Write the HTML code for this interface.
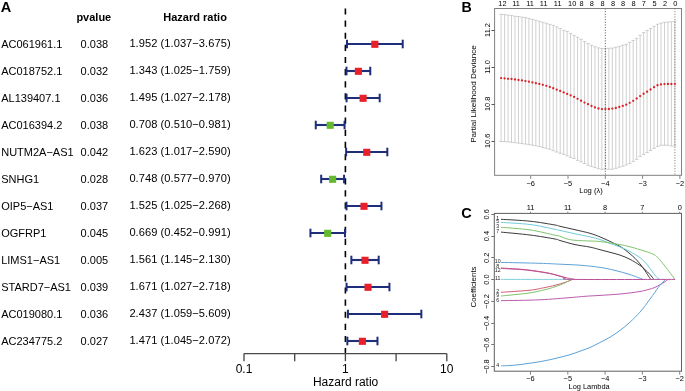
<!DOCTYPE html>
<html><head><meta charset="utf-8"><style>
html,body{margin:0;padding:0;background:#fff;}
body{width:685px;height:391px;overflow:hidden;}
svg{display:block;font-family:"Liberation Sans", sans-serif;font-variant-ligatures:none;font-kerning:normal;will-change:transform;}
</style></head><body>
<svg width="685" height="391" viewBox="0 0 685 391" font-family='"Liberation Sans", sans-serif'>
<rect width="685" height="391" fill="#fff"/>
<text x="0.7" y="12.0" font-size="14.6" font-weight="bold">A</text>
<text x="76.4" y="20.6" font-size="11" font-weight="bold">pvalue</text>
<text x="163.3" y="20.7" font-size="11" font-weight="bold">Hazard ratio</text>
<text x="1.2" y="47.90" font-size="11">AC061961.1</text>
<text x="80.6" y="47.90" font-size="11">0.038</text>
<text x="129.4" y="47.15" font-size="11.1" textLength="101.2" lengthAdjust="spacing">1.952 (1.037−3.675)</text>
<text x="1.2" y="74.90" font-size="11">AC018752.1</text>
<text x="80.6" y="74.90" font-size="11">0.032</text>
<text x="129.4" y="74.15" font-size="11.1" textLength="101.2" lengthAdjust="spacing">1.343 (1.025−1.759)</text>
<text x="1.2" y="101.90" font-size="11">AL139407.1</text>
<text x="80.6" y="101.90" font-size="11">0.036</text>
<text x="129.4" y="101.15" font-size="11.1" textLength="101.2" lengthAdjust="spacing">1.495 (1.027−2.178)</text>
<text x="1.2" y="128.90" font-size="11">AC016394.2</text>
<text x="80.6" y="128.90" font-size="11">0.038</text>
<text x="129.4" y="128.15" font-size="11.1" textLength="101.2" lengthAdjust="spacing">0.708 (0.510−0.981)</text>
<text x="1.2" y="155.90" font-size="11">NUTM2A−AS1</text>
<text x="80.6" y="155.90" font-size="11">0.042</text>
<text x="129.4" y="155.15" font-size="11.1" textLength="101.2" lengthAdjust="spacing">1.623 (1.017−2.590)</text>
<text x="1.2" y="182.90" font-size="11">SNHG1</text>
<text x="80.6" y="182.90" font-size="11">0.028</text>
<text x="129.4" y="182.15" font-size="11.1" textLength="101.2" lengthAdjust="spacing">0.748 (0.577−0.970)</text>
<text x="1.2" y="209.90" font-size="11">OIP5−AS1</text>
<text x="80.6" y="209.90" font-size="11">0.037</text>
<text x="129.4" y="209.15" font-size="11.1" textLength="101.2" lengthAdjust="spacing">1.525 (1.025−2.268)</text>
<text x="1.2" y="236.90" font-size="11">OGFRP1</text>
<text x="80.6" y="236.90" font-size="11">0.045</text>
<text x="129.4" y="236.15" font-size="11.1" textLength="101.2" lengthAdjust="spacing">0.669 (0.452−0.991)</text>
<text x="1.2" y="263.90" font-size="11">LIMS1−AS1</text>
<text x="80.6" y="263.90" font-size="11">0.005</text>
<text x="129.4" y="263.15" font-size="11.1" textLength="101.2" lengthAdjust="spacing">1.561 (1.145−2.130)</text>
<text x="1.2" y="290.90" font-size="11">STARD7−AS1</text>
<text x="80.6" y="290.90" font-size="11">0.039</text>
<text x="129.4" y="290.15" font-size="11.1" textLength="101.2" lengthAdjust="spacing">1.671 (1.027−2.718)</text>
<text x="1.2" y="317.90" font-size="11">AC019080.1</text>
<text x="80.6" y="317.90" font-size="11">0.036</text>
<text x="129.4" y="317.15" font-size="11.1" textLength="101.2" lengthAdjust="spacing">2.437 (1.059−5.609)</text>
<text x="1.2" y="344.90" font-size="11">AC234775.2</text>
<text x="80.6" y="344.90" font-size="11">0.027</text>
<text x="129.4" y="344.15" font-size="11.1" textLength="101.2" lengthAdjust="spacing">1.471 (1.045−2.072)</text>
<line x1="345.4" y1="8.4" x2="345.4" y2="353.6" stroke="#000" stroke-width="1.6" stroke-dasharray="6.2 5.93"/>
<line x1="347.00" y1="44.0" x2="402.72" y2="44.0" stroke="#1e2e7a" stroke-width="2.1"/>
<line x1="347.00" y1="39.70" x2="347.00" y2="48.30" stroke="#1e2e7a" stroke-width="2"/>
<line x1="402.72" y1="39.70" x2="402.72" y2="48.30" stroke="#1e2e7a" stroke-width="2"/>
<rect x="371.30" y="40.75" width="7.1" height="7.1" fill="#e8202a"/>
<line x1="346.49" y1="71.0" x2="370.27" y2="71.0" stroke="#1e2e7a" stroke-width="2.1"/>
<line x1="346.49" y1="66.70" x2="346.49" y2="75.30" stroke="#1e2e7a" stroke-width="2"/>
<line x1="370.27" y1="66.70" x2="370.27" y2="75.30" stroke="#1e2e7a" stroke-width="2"/>
<rect x="354.84" y="67.75" width="7.1" height="7.1" fill="#e8202a"/>
<line x1="346.57" y1="98.0" x2="379.68" y2="98.0" stroke="#1e2e7a" stroke-width="2.1"/>
<line x1="346.57" y1="93.70" x2="346.57" y2="102.30" stroke="#1e2e7a" stroke-width="2"/>
<line x1="379.68" y1="93.70" x2="379.68" y2="102.30" stroke="#1e2e7a" stroke-width="2"/>
<rect x="359.56" y="94.75" width="7.1" height="7.1" fill="#e8202a"/>
<line x1="315.75" y1="125.0" x2="344.56" y2="125.0" stroke="#1e2e7a" stroke-width="2.1"/>
<line x1="315.75" y1="120.70" x2="315.75" y2="129.30" stroke="#1e2e7a" stroke-width="2"/>
<line x1="344.56" y1="120.70" x2="344.56" y2="129.30" stroke="#1e2e7a" stroke-width="2"/>
<rect x="326.64" y="121.75" width="7.1" height="7.1" fill="#64b92f"/>
<line x1="346.14" y1="152.0" x2="387.31" y2="152.0" stroke="#1e2e7a" stroke-width="2.1"/>
<line x1="346.14" y1="147.70" x2="346.14" y2="156.30" stroke="#1e2e7a" stroke-width="2"/>
<line x1="387.31" y1="147.70" x2="387.31" y2="156.30" stroke="#1e2e7a" stroke-width="2"/>
<rect x="363.18" y="148.75" width="7.1" height="7.1" fill="#e8202a"/>
<line x1="321.18" y1="179.0" x2="344.06" y2="179.0" stroke="#1e2e7a" stroke-width="2.1"/>
<line x1="321.18" y1="174.70" x2="321.18" y2="183.30" stroke="#1e2e7a" stroke-width="2"/>
<line x1="344.06" y1="174.70" x2="344.06" y2="183.30" stroke="#1e2e7a" stroke-width="2"/>
<rect x="329.06" y="175.75" width="7.1" height="7.1" fill="#64b92f"/>
<line x1="346.49" y1="206.0" x2="381.46" y2="206.0" stroke="#1e2e7a" stroke-width="2.1"/>
<line x1="346.49" y1="201.70" x2="346.49" y2="210.30" stroke="#1e2e7a" stroke-width="2"/>
<line x1="381.46" y1="201.70" x2="381.46" y2="210.30" stroke="#1e2e7a" stroke-width="2"/>
<rect x="360.43" y="202.75" width="7.1" height="7.1" fill="#e8202a"/>
<line x1="310.43" y1="233.0" x2="345.00" y2="233.0" stroke="#1e2e7a" stroke-width="2.1"/>
<line x1="310.43" y1="228.70" x2="310.43" y2="237.30" stroke="#1e2e7a" stroke-width="2"/>
<line x1="345.00" y1="228.70" x2="345.00" y2="237.30" stroke="#1e2e7a" stroke-width="2"/>
<rect x="324.15" y="229.75" width="7.1" height="7.1" fill="#64b92f"/>
<line x1="351.36" y1="260.0" x2="378.70" y2="260.0" stroke="#1e2e7a" stroke-width="2.1"/>
<line x1="351.36" y1="255.70" x2="351.36" y2="264.30" stroke="#1e2e7a" stroke-width="2"/>
<line x1="378.70" y1="255.70" x2="378.70" y2="264.30" stroke="#1e2e7a" stroke-width="2"/>
<rect x="361.46" y="256.75" width="7.1" height="7.1" fill="#e8202a"/>
<line x1="346.57" y1="287.0" x2="389.43" y2="287.0" stroke="#1e2e7a" stroke-width="2.1"/>
<line x1="346.57" y1="282.70" x2="346.57" y2="291.30" stroke="#1e2e7a" stroke-width="2"/>
<line x1="389.43" y1="282.70" x2="389.43" y2="291.30" stroke="#1e2e7a" stroke-width="2"/>
<rect x="364.46" y="283.75" width="7.1" height="7.1" fill="#e8202a"/>
<line x1="347.92" y1="314.0" x2="421.34" y2="314.0" stroke="#1e2e7a" stroke-width="2.1"/>
<line x1="347.92" y1="309.70" x2="347.92" y2="318.30" stroke="#1e2e7a" stroke-width="2"/>
<line x1="421.34" y1="309.70" x2="421.34" y2="318.30" stroke="#1e2e7a" stroke-width="2"/>
<rect x="381.08" y="310.75" width="7.1" height="7.1" fill="#e8202a"/>
<line x1="347.34" y1="341.0" x2="377.48" y2="341.0" stroke="#1e2e7a" stroke-width="2.1"/>
<line x1="347.34" y1="336.70" x2="347.34" y2="345.30" stroke="#1e2e7a" stroke-width="2"/>
<line x1="377.48" y1="336.70" x2="377.48" y2="345.30" stroke="#1e2e7a" stroke-width="2"/>
<rect x="358.85" y="337.75" width="7.1" height="7.1" fill="#e8202a"/>
<line x1="244.00" y1="353.6" x2="446.80" y2="353.6" stroke="#4a4a4a" stroke-width="1.2"/>
<line x1="244.00" y1="353.6" x2="244.00" y2="361.2" stroke="#444" stroke-width="1.3"/>
<line x1="294.70" y1="353.6" x2="294.70" y2="361.2" stroke="#444" stroke-width="1.3"/>
<line x1="345.40" y1="353.6" x2="345.40" y2="361.2" stroke="#444" stroke-width="1.3"/>
<line x1="396.10" y1="353.6" x2="396.10" y2="361.2" stroke="#444" stroke-width="1.3"/>
<line x1="446.80" y1="353.6" x2="446.80" y2="361.2" stroke="#444" stroke-width="1.3"/>
<text x="244.00" y="372.7" font-size="12" text-anchor="middle">0.1</text>
<text x="345.40" y="372.7" font-size="12" text-anchor="middle">1</text>
<text x="446.80" y="372.7" font-size="12" text-anchor="middle">10</text>
<text x="345.6" y="386.3" font-size="12" text-anchor="middle">Hazard ratio</text>
<text x="461.5" y="11.8" font-size="14.2" font-weight="bold">B</text>
<path d="M501.10 14.30V141.50M499.36 14.30H502.84M499.36 141.50H502.84M504.58 14.60V141.60M502.84 14.60H506.32M502.84 141.60H506.32M508.05 15.19V141.90M506.31 15.19H509.79M506.31 141.90H509.79M511.53 15.40V142.29M509.79 15.40H513.27M509.79 142.29H513.27M515.00 16.28V142.59M513.26 16.28H516.74M513.26 142.59H516.74M518.48 16.59V143.18M516.74 16.59H520.22M516.74 143.18H520.22M521.96 17.16V143.57M520.22 17.16H523.70M520.22 143.57H523.70M525.43 17.57V144.06M523.69 17.57H527.17M523.69 144.06H527.17M528.91 18.47V144.59M527.17 18.47H530.65M527.17 144.59H530.65M532.38 19.37V145.18M530.64 19.37H534.12M530.64 145.18H534.12M535.86 20.26V145.87M534.12 20.26H537.60M534.12 145.87H537.60M539.34 21.25V146.57M537.60 21.25H541.08M537.60 146.57H541.08M542.81 22.25V147.45M541.07 22.25H544.55M541.07 147.45H544.55M546.29 23.24V148.35M544.55 23.24H548.03M544.55 148.35H548.03M549.76 24.33V149.24M548.02 24.33H551.50M548.02 149.24H551.50M553.24 25.35V150.73M551.50 25.35H554.98M551.50 150.73H554.98M556.72 26.92V152.03M554.98 26.92H558.46M554.98 152.03H558.46M560.19 28.45V153.26M558.45 28.45H561.93M558.45 153.26H561.93M563.67 30.28V154.29M561.93 30.28H565.41M561.93 154.29H565.41M567.14 31.48V155.87M565.40 31.48H568.88M565.40 155.87H568.88M570.62 33.41V157.31M568.88 33.41H572.36M568.88 157.31H572.36M574.10 35.34V158.47M572.36 35.34H575.84M572.36 158.47H575.84M577.57 37.28V160.38M575.83 37.28H579.31M575.83 160.38H579.31M581.05 39.27V161.88M579.31 39.27H582.79M579.31 161.88H582.79M584.52 41.51V163.51M582.78 41.51H586.26M582.78 163.51H586.26M588.00 43.50V165.30M586.26 43.50H589.74M586.26 165.30H589.74M591.48 45.29V166.39M589.74 45.29H593.22M589.74 166.39H593.22M594.95 46.68V167.58M593.21 46.68H596.69M593.21 167.58H596.69M598.43 47.90V168.70M596.69 47.90H600.17M596.69 168.70H600.17M601.90 48.50V169.30M600.16 48.50H603.64M600.16 169.30H603.64M605.38 48.40V169.20M603.64 48.40H607.12M603.64 169.20H607.12M608.86 48.30V169.30M607.12 48.30H610.60M607.12 169.30H610.60M612.33 48.10V169.20M610.59 48.10H614.07M610.59 169.20H614.07M615.81 47.32V168.32M614.07 47.32H617.55M614.07 168.32H617.55M619.28 46.40V167.21M617.54 46.40H621.02M617.54 167.21H621.02M622.76 45.31V166.31M621.02 45.31H624.50M621.02 166.31H624.50M626.24 44.32V164.93M624.50 44.32H627.98M624.50 164.93H627.98M629.71 42.35V163.44M627.97 42.35H631.45M627.97 163.44H631.45M633.19 40.46V161.46M631.45 40.46H634.93M631.45 161.46H634.93M636.66 38.32V159.32M634.92 38.32H638.40M634.92 159.32H638.40M640.14 35.35V156.45M638.40 35.35H641.88M638.40 156.45H641.88M643.62 32.66V154.45M641.88 32.66H645.36M641.88 154.45H645.36M647.09 30.47V152.56M645.35 30.47H648.83M645.35 152.56H648.83M650.57 28.57V150.48M648.83 28.57H652.31M648.83 150.48H652.31M654.04 26.34V148.43M652.30 26.34H655.78M652.30 148.43H655.78M657.52 24.25V146.45M655.78 24.25H659.26M655.78 146.45H659.26M661.00 23.13V145.33M659.26 23.13H662.74M659.26 145.33H662.74M664.47 22.39V145.30M662.73 22.39H666.21M662.73 145.30H666.21M667.95 22.00V145.31M666.21 22.00H669.69M666.21 145.31H669.69M671.42 21.78V146.00M669.68 21.78H673.16M669.68 146.00H673.16M674.90 21.30V146.00M673.16 21.30H676.64M673.16 146.00H676.64" stroke="#bcbcbc" stroke-width="0.7" fill="none"/>
<line x1="605.3" y1="8.5" x2="605.3" y2="175.3" stroke="#2a2a2a" stroke-width="0.85" stroke-dasharray="0.95 1.71"/>
<line x1="674.9" y1="8.5" x2="674.9" y2="175.3" stroke="#555" stroke-width="0.85" stroke-dasharray="0.95 1.71"/>
<circle cx="501.10" cy="78.10" r="1.15" fill="#dc2129"/>
<circle cx="504.58" cy="78.40" r="1.15" fill="#dc2129"/>
<circle cx="508.05" cy="78.79" r="1.15" fill="#dc2129"/>
<circle cx="511.53" cy="79.00" r="1.15" fill="#dc2129"/>
<circle cx="515.00" cy="79.49" r="1.15" fill="#dc2129"/>
<circle cx="518.48" cy="79.98" r="1.15" fill="#dc2129"/>
<circle cx="521.96" cy="80.47" r="1.15" fill="#dc2129"/>
<circle cx="525.43" cy="81.05" r="1.15" fill="#dc2129"/>
<circle cx="528.91" cy="81.68" r="1.15" fill="#dc2129"/>
<circle cx="532.38" cy="82.47" r="1.15" fill="#dc2129"/>
<circle cx="535.86" cy="83.17" r="1.15" fill="#dc2129"/>
<circle cx="539.34" cy="83.96" r="1.15" fill="#dc2129"/>
<circle cx="542.81" cy="84.85" r="1.15" fill="#dc2129"/>
<circle cx="546.29" cy="85.84" r="1.15" fill="#dc2129"/>
<circle cx="549.76" cy="86.93" r="1.15" fill="#dc2129"/>
<circle cx="553.24" cy="88.24" r="1.15" fill="#dc2129"/>
<circle cx="556.72" cy="89.63" r="1.15" fill="#dc2129"/>
<circle cx="560.19" cy="90.96" r="1.15" fill="#dc2129"/>
<circle cx="563.67" cy="92.39" r="1.15" fill="#dc2129"/>
<circle cx="567.14" cy="93.88" r="1.15" fill="#dc2129"/>
<circle cx="570.62" cy="95.41" r="1.15" fill="#dc2129"/>
<circle cx="574.10" cy="96.95" r="1.15" fill="#dc2129"/>
<circle cx="577.57" cy="98.79" r="1.15" fill="#dc2129"/>
<circle cx="581.05" cy="100.77" r="1.15" fill="#dc2129"/>
<circle cx="584.52" cy="102.61" r="1.15" fill="#dc2129"/>
<circle cx="588.00" cy="104.20" r="1.15" fill="#dc2129"/>
<circle cx="591.48" cy="105.99" r="1.15" fill="#dc2129"/>
<circle cx="594.95" cy="107.38" r="1.15" fill="#dc2129"/>
<circle cx="598.43" cy="108.50" r="1.15" fill="#dc2129"/>
<circle cx="601.90" cy="109.10" r="1.15" fill="#dc2129"/>
<circle cx="605.38" cy="109.10" r="1.15" fill="#dc2129"/>
<circle cx="608.86" cy="109.00" r="1.15" fill="#dc2129"/>
<circle cx="612.33" cy="108.61" r="1.15" fill="#dc2129"/>
<circle cx="615.81" cy="108.02" r="1.15" fill="#dc2129"/>
<circle cx="619.28" cy="107.00" r="1.15" fill="#dc2129"/>
<circle cx="622.76" cy="105.91" r="1.15" fill="#dc2129"/>
<circle cx="626.24" cy="104.72" r="1.15" fill="#dc2129"/>
<circle cx="629.71" cy="102.85" r="1.15" fill="#dc2129"/>
<circle cx="633.19" cy="100.86" r="1.15" fill="#dc2129"/>
<circle cx="636.66" cy="98.52" r="1.15" fill="#dc2129"/>
<circle cx="640.14" cy="96.04" r="1.15" fill="#dc2129"/>
<circle cx="643.62" cy="93.76" r="1.15" fill="#dc2129"/>
<circle cx="647.09" cy="91.76" r="1.15" fill="#dc2129"/>
<circle cx="650.57" cy="89.49" r="1.15" fill="#dc2129"/>
<circle cx="654.04" cy="87.14" r="1.15" fill="#dc2129"/>
<circle cx="657.52" cy="85.24" r="1.15" fill="#dc2129"/>
<circle cx="661.00" cy="84.42" r="1.15" fill="#dc2129"/>
<circle cx="664.47" cy="84.10" r="1.15" fill="#dc2129"/>
<circle cx="667.95" cy="84.00" r="1.15" fill="#dc2129"/>
<circle cx="671.42" cy="83.99" r="1.15" fill="#dc2129"/>
<circle cx="674.90" cy="83.80" r="1.15" fill="#dc2129"/>
<rect x="494.6" y="8.5" width="186.9" height="166.8" fill="none" stroke="#808080" stroke-width="1"/>
<line x1="491.5" y1="30.50" x2="494.6" y2="30.50" stroke="#555" stroke-width="1"/>
<text transform="translate(490.0 30.00) rotate(-90)" font-size="7.4" text-anchor="middle">11.2</text>
<line x1="491.5" y1="67.50" x2="494.6" y2="67.50" stroke="#555" stroke-width="1"/>
<text transform="translate(490.0 66.94) rotate(-90)" font-size="7.4" text-anchor="middle">11.0</text>
<line x1="491.5" y1="104.50" x2="494.6" y2="104.50" stroke="#555" stroke-width="1"/>
<text transform="translate(490.0 103.88) rotate(-90)" font-size="7.4" text-anchor="middle">10.8</text>
<line x1="491.5" y1="141.50" x2="494.6" y2="141.50" stroke="#555" stroke-width="1"/>
<text transform="translate(490.0 140.82) rotate(-90)" font-size="7.4" text-anchor="middle">10.6</text>
<text transform="translate(475.9 94.0) rotate(-90)" font-size="8.1" text-anchor="middle">Partial Likelihood Deviance</text>
<line x1="530.70" y1="175.3" x2="530.70" y2="178.8" stroke="#808080" stroke-width="1"/>
<text x="530.70" y="186.1" font-size="7.4" text-anchor="middle">−6</text>
<line x1="568.00" y1="175.3" x2="568.00" y2="178.8" stroke="#808080" stroke-width="1"/>
<text x="568.00" y="186.1" font-size="7.4" text-anchor="middle">−5</text>
<line x1="605.30" y1="175.3" x2="605.30" y2="178.8" stroke="#808080" stroke-width="1"/>
<text x="605.30" y="186.1" font-size="7.4" text-anchor="middle">−4</text>
<line x1="642.60" y1="175.3" x2="642.60" y2="178.8" stroke="#808080" stroke-width="1"/>
<text x="642.60" y="186.1" font-size="7.4" text-anchor="middle">−3</text>
<line x1="679.90" y1="175.3" x2="679.90" y2="178.8" stroke="#808080" stroke-width="1"/>
<text x="679.90" y="186.1" font-size="7.4" text-anchor="middle">−2</text>
<text x="591" y="193.2" font-size="7.6" text-anchor="middle">Log (λ)</text>
<text x="502.40" y="5.8" font-size="7.4" text-anchor="middle">12</text>
<text x="516.10" y="5.8" font-size="7.4" text-anchor="middle">11</text>
<text x="530.10" y="5.8" font-size="7.4" text-anchor="middle">11</text>
<text x="543.70" y="5.8" font-size="7.4" text-anchor="middle">11</text>
<text x="557.70" y="5.8" font-size="7.4" text-anchor="middle">11</text>
<text x="572.20" y="5.8" font-size="7.4" text-anchor="middle">10</text>
<text x="581.60" y="5.8" font-size="7.4" text-anchor="middle">8</text>
<text x="591.80" y="5.8" font-size="7.4" text-anchor="middle">8</text>
<text x="602.50" y="5.8" font-size="7.4" text-anchor="middle">8</text>
<text x="613.00" y="5.8" font-size="7.4" text-anchor="middle">8</text>
<text x="623.00" y="5.8" font-size="7.4" text-anchor="middle">8</text>
<text x="633.50" y="5.8" font-size="7.4" text-anchor="middle">8</text>
<text x="643.80" y="5.8" font-size="7.4" text-anchor="middle">7</text>
<text x="654.60" y="5.8" font-size="7.4" text-anchor="middle">5</text>
<text x="665.00" y="5.8" font-size="7.4" text-anchor="middle">2</text>
<text x="675.30" y="5.8" font-size="7.4" text-anchor="middle">0</text>
<text x="461.3" y="217.6" font-size="14.5" font-weight="bold">C</text>
<path d="M501.00 219.30C505.83 219.62 521.00 220.25 530.00 221.20C539.00 222.15 550.00 224.15 555.00 225.00C560.00 225.85 556.67 225.52 560.00 226.30C563.33 227.08 570.00 228.53 575.00 229.70C580.00 230.87 585.83 232.10 590.00 233.30C594.17 234.50 596.67 235.55 600.00 236.90C603.33 238.25 606.67 239.82 610.00 241.40C613.33 242.98 617.50 245.00 620.00 246.40C622.50 247.80 623.33 248.57 625.00 249.80C626.67 251.03 628.33 252.38 630.00 253.80C631.67 255.22 633.33 256.62 635.00 258.30C636.67 259.98 638.33 261.83 640.00 263.90C641.67 265.97 643.42 268.42 645.00 270.70C646.58 272.98 648.50 276.15 649.50 277.60C650.50 279.05 650.75 279.10 651.00 279.40" stroke="#3a3a3a" stroke-width="1" fill="none"/>
<path d="M501.00 222.40C505.83 222.75 521.00 223.35 530.00 224.50C539.00 225.65 550.00 228.32 555.00 229.30C560.00 230.28 556.67 229.65 560.00 230.40C563.33 231.15 570.00 232.72 575.00 233.80C580.00 234.88 585.83 235.95 590.00 236.90C594.17 237.85 596.67 238.42 600.00 239.50C603.33 240.58 606.67 242.15 610.00 243.40C613.33 244.65 616.67 245.65 620.00 247.00C623.33 248.35 626.67 249.72 630.00 251.50C633.33 253.28 637.50 255.92 640.00 257.70C642.50 259.48 643.33 260.42 645.00 262.20C646.67 263.98 648.33 266.23 650.00 268.40C651.67 270.57 653.67 273.53 655.00 275.20C656.33 276.87 657.17 277.70 658.00 278.40C658.83 279.10 659.67 279.23 660.00 279.40" stroke="#6fcbdb" stroke-width="1" fill="none"/>
<path d="M501.00 227.30C505.83 227.73 521.00 228.58 530.00 229.90C539.00 231.22 550.00 234.15 555.00 235.20C560.00 236.25 558.00 235.58 560.00 236.20C562.00 236.82 564.50 238.22 567.00 238.90C569.50 239.58 571.17 239.95 575.00 240.30C578.83 240.65 585.83 240.80 590.00 241.00C594.17 241.20 596.67 241.17 600.00 241.50C603.33 241.83 606.67 242.48 610.00 243.00C613.33 243.52 616.67 243.97 620.00 244.60C623.33 245.23 625.83 245.70 630.00 246.80C634.17 247.90 641.17 249.97 645.00 251.20C648.83 252.43 650.83 253.10 653.00 254.20C655.17 255.30 656.00 255.80 658.00 257.80C660.00 259.80 662.17 262.60 665.00 266.20C667.83 269.80 673.33 277.20 675.00 279.40" stroke="#7fc46c" stroke-width="1" fill="none"/>
<path d="M501.00 232.10C505.83 232.58 521.00 233.85 530.00 235.00C539.00 236.15 550.00 238.08 555.00 239.00C560.00 239.92 556.67 239.57 560.00 240.50C563.33 241.43 570.00 243.50 575.00 244.60C580.00 245.70 585.83 246.25 590.00 247.10C594.17 247.95 596.67 248.83 600.00 249.70C603.33 250.57 606.67 251.40 610.00 252.30C613.33 253.20 616.67 253.93 620.00 255.10C623.33 256.27 626.67 257.58 630.00 259.30C633.33 261.02 637.50 263.68 640.00 265.40C642.50 267.12 643.33 268.08 645.00 269.60C646.67 271.12 648.50 272.87 650.00 274.50C651.50 276.13 653.33 278.58 654.00 279.40" stroke="#3a3a3a" stroke-width="1" fill="none"/>
<path d="M501.00 262.40C507.50 262.55 530.17 263.00 540.00 263.30C549.83 263.60 553.33 263.88 560.00 264.20C566.67 264.52 573.33 264.67 580.00 265.20C586.67 265.73 594.17 266.53 600.00 267.40C605.83 268.27 610.00 269.20 615.00 270.40C620.00 271.60 625.33 273.10 630.00 274.60C634.67 276.10 640.83 278.60 643.00 279.40" stroke="#5ea2d8" stroke-width="1" fill="none"/>
<path d="M501.00 268.00C504.17 268.20 515.17 268.83 520.00 269.20C524.83 269.57 525.83 269.67 530.00 270.20C534.17 270.73 540.83 271.67 545.00 272.40C549.17 273.13 551.67 273.75 555.00 274.60C558.33 275.45 561.67 276.70 565.00 277.50C568.33 278.30 573.33 279.08 575.00 279.40" stroke="#d0587a" stroke-width="1" fill="none"/>
<path d="M501.00 292.30C505.83 291.95 522.67 291.00 530.00 290.20C537.33 289.40 540.83 288.32 545.00 287.50C549.17 286.68 551.67 286.15 555.00 285.30C558.33 284.45 562.03 283.38 565.00 282.40C567.97 281.42 571.50 279.90 572.80 279.40" stroke="#d45a74" stroke-width="1" fill="none"/>
<path d="M501.00 296.00C503.33 295.77 510.17 295.12 515.00 294.60C519.83 294.08 525.00 293.72 530.00 292.90C535.00 292.08 540.83 290.72 545.00 289.70C549.17 288.68 551.67 287.93 555.00 286.80C558.33 285.67 562.35 284.13 565.00 282.90C567.65 281.67 569.92 279.98 570.90 279.40" stroke="#7fc46c" stroke-width="1" fill="none"/>
<path d="M501.00 300.70C507.50 300.55 528.50 300.32 540.00 299.80C551.50 299.28 562.50 298.18 570.00 297.60C577.50 297.02 580.00 296.67 585.00 296.30C590.00 295.93 594.17 295.78 600.00 295.40C605.83 295.02 613.33 294.65 620.00 294.00C626.67 293.35 635.00 292.33 640.00 291.50C645.00 290.67 647.50 289.68 650.00 289.00C652.50 288.32 653.33 288.12 655.00 287.40C656.67 286.68 658.33 285.65 660.00 284.70C661.67 283.75 663.67 282.58 665.00 281.70C666.33 280.82 667.50 279.78 668.00 279.40" stroke="#bb5aad" stroke-width="1" fill="none"/>
<path d="M501.00 365.90C502.50 365.83 506.83 365.72 510.00 365.50C513.17 365.28 516.67 364.98 520.00 364.60C523.33 364.22 526.67 363.68 530.00 363.20C533.33 362.72 536.67 362.28 540.00 361.70C543.33 361.12 546.67 360.43 550.00 359.70C553.33 358.97 556.67 358.13 560.00 357.30C563.33 356.47 566.67 355.72 570.00 354.70C573.33 353.68 576.67 352.40 580.00 351.20C583.33 350.00 586.67 348.95 590.00 347.50C593.33 346.05 596.67 344.22 600.00 342.50C603.33 340.78 606.67 339.22 610.00 337.20C613.33 335.18 616.67 332.90 620.00 330.40C623.33 327.90 626.67 325.25 630.00 322.20C633.33 319.15 637.33 315.03 640.00 312.10C642.67 309.17 644.33 306.78 646.00 304.60C647.67 302.42 648.50 301.05 650.00 299.00C651.50 296.95 653.67 294.18 655.00 292.30C656.33 290.42 656.83 289.25 658.00 287.70C659.17 286.15 660.75 284.38 662.00 283.00C663.25 281.62 664.92 280.00 665.50 279.40" stroke="#5ea2d8" stroke-width="1" fill="none"/>
<path d="M501.00 279.40C513.00 279.40 561.00 279.40 573.00 279.40" stroke="#7fd0dc" stroke-width="1" fill="none"/>
<path d="M501.00 268.40C504.17 268.58 515.17 269.15 520.00 269.50C524.83 269.85 525.83 269.97 530.00 270.50C534.17 271.03 540.83 271.98 545.00 272.70C549.17 273.42 551.67 273.97 555.00 274.80C558.33 275.63 562.00 276.93 565.00 277.70C568.00 278.47 554.67 279.12 573.00 279.40C591.33 279.68 658.00 279.40 675.00 279.40" stroke="#b9509a" stroke-width="1" fill="none"/>
<rect x="494.3" y="213.4" width="187.2" height="157.8" fill="none" stroke="#5e5e5e" stroke-width="1"/>
<line x1="491.2" y1="214.50" x2="494.3" y2="214.50" stroke="#777" stroke-width="1"/>
<text transform="translate(489.1 214.38) rotate(-90)" font-size="7.4" text-anchor="middle">0.6</text>
<line x1="491.2" y1="236.50" x2="494.3" y2="236.50" stroke="#777" stroke-width="1"/>
<text transform="translate(489.1 236.12) rotate(-90)" font-size="7.4" text-anchor="middle">0.4</text>
<line x1="491.2" y1="257.50" x2="494.3" y2="257.50" stroke="#777" stroke-width="1"/>
<text transform="translate(489.1 257.86) rotate(-90)" font-size="7.4" text-anchor="middle">0.2</text>
<line x1="491.2" y1="279.50" x2="494.3" y2="279.50" stroke="#777" stroke-width="1"/>
<text transform="translate(489.1 279.60) rotate(-90)" font-size="7.4" text-anchor="middle">0.0</text>
<line x1="491.2" y1="301.50" x2="494.3" y2="301.50" stroke="#777" stroke-width="1"/>
<text transform="translate(489.1 301.34) rotate(-90)" font-size="7.4" text-anchor="middle">−0.2</text>
<line x1="491.2" y1="323.50" x2="494.3" y2="323.50" stroke="#777" stroke-width="1"/>
<text transform="translate(489.1 323.08) rotate(-90)" font-size="7.4" text-anchor="middle">−0.4</text>
<line x1="491.2" y1="344.50" x2="494.3" y2="344.50" stroke="#777" stroke-width="1"/>
<text transform="translate(489.1 344.82) rotate(-90)" font-size="7.4" text-anchor="middle">−0.6</text>
<line x1="491.2" y1="366.50" x2="494.3" y2="366.50" stroke="#777" stroke-width="1"/>
<text transform="translate(489.1 366.56) rotate(-90)" font-size="7.4" text-anchor="middle">−0.8</text>
<text transform="translate(476.3 287.0) rotate(-90)" font-size="7.9" text-anchor="middle">Coefficients</text>
<line x1="530.50" y1="371.2" x2="530.50" y2="374.6" stroke="#808080" stroke-width="1"/>
<text x="530.50" y="381.3" font-size="7.4" text-anchor="middle">−6</text>
<line x1="530.50" y1="213.4" x2="530.50" y2="211.7" stroke="#808080" stroke-width="1"/>
<text x="530.50" y="209.5" font-size="7.4" text-anchor="middle">11</text>
<line x1="567.80" y1="371.2" x2="567.80" y2="374.6" stroke="#808080" stroke-width="1"/>
<text x="567.80" y="381.3" font-size="7.4" text-anchor="middle">−5</text>
<line x1="567.80" y1="213.4" x2="567.80" y2="211.7" stroke="#808080" stroke-width="1"/>
<text x="567.80" y="209.5" font-size="7.4" text-anchor="middle">11</text>
<line x1="605.10" y1="371.2" x2="605.10" y2="374.6" stroke="#808080" stroke-width="1"/>
<text x="605.10" y="381.3" font-size="7.4" text-anchor="middle">−4</text>
<line x1="605.10" y1="213.4" x2="605.10" y2="211.7" stroke="#808080" stroke-width="1"/>
<text x="605.10" y="209.5" font-size="7.4" text-anchor="middle">8</text>
<line x1="642.40" y1="371.2" x2="642.40" y2="374.6" stroke="#808080" stroke-width="1"/>
<text x="642.40" y="381.3" font-size="7.4" text-anchor="middle">−3</text>
<line x1="642.40" y1="213.4" x2="642.40" y2="211.7" stroke="#808080" stroke-width="1"/>
<text x="642.40" y="209.5" font-size="7.4" text-anchor="middle">7</text>
<line x1="679.70" y1="371.2" x2="679.70" y2="374.6" stroke="#808080" stroke-width="1"/>
<text x="679.70" y="381.3" font-size="7.4" text-anchor="middle">−2</text>
<line x1="679.70" y1="213.4" x2="679.70" y2="211.7" stroke="#808080" stroke-width="1"/>
<text x="679.70" y="209.5" font-size="7.4" text-anchor="middle">0</text>
<text x="589.1" y="389.2" font-size="7.4" text-anchor="middle">Log Lambda</text>
<text x="497.7" y="220.35" font-size="5.2" text-anchor="middle" fill="#222">1</text>
<text x="497.7" y="223.45" font-size="5.2" text-anchor="middle" fill="#222">5</text>
<text x="497.7" y="228.35" font-size="5.2" text-anchor="middle" fill="#222">3</text>
<text x="497.7" y="233.15" font-size="5.2" text-anchor="middle" fill="#222">7</text>
<text x="497.7" y="263.45" font-size="5.2" text-anchor="middle" fill="#222">10</text>
<text x="497.7" y="267.65" font-size="5.2" text-anchor="middle" fill="#222">8</text>
<text x="497.7" y="271.65" font-size="5.2" text-anchor="middle" fill="#222">12</text>
<text x="497.7" y="280.45" font-size="5.2" text-anchor="middle" fill="#222">11</text>
<text x="497.7" y="293.35" font-size="5.2" text-anchor="middle" fill="#222">2</text>
<text x="497.7" y="297.05" font-size="5.2" text-anchor="middle" fill="#222">9</text>
<text x="497.7" y="301.75" font-size="5.2" text-anchor="middle" fill="#222">6</text>
<text x="497.7" y="366.65" font-size="5.2" text-anchor="middle" fill="#222">4</text>
</svg>
</body></html>
